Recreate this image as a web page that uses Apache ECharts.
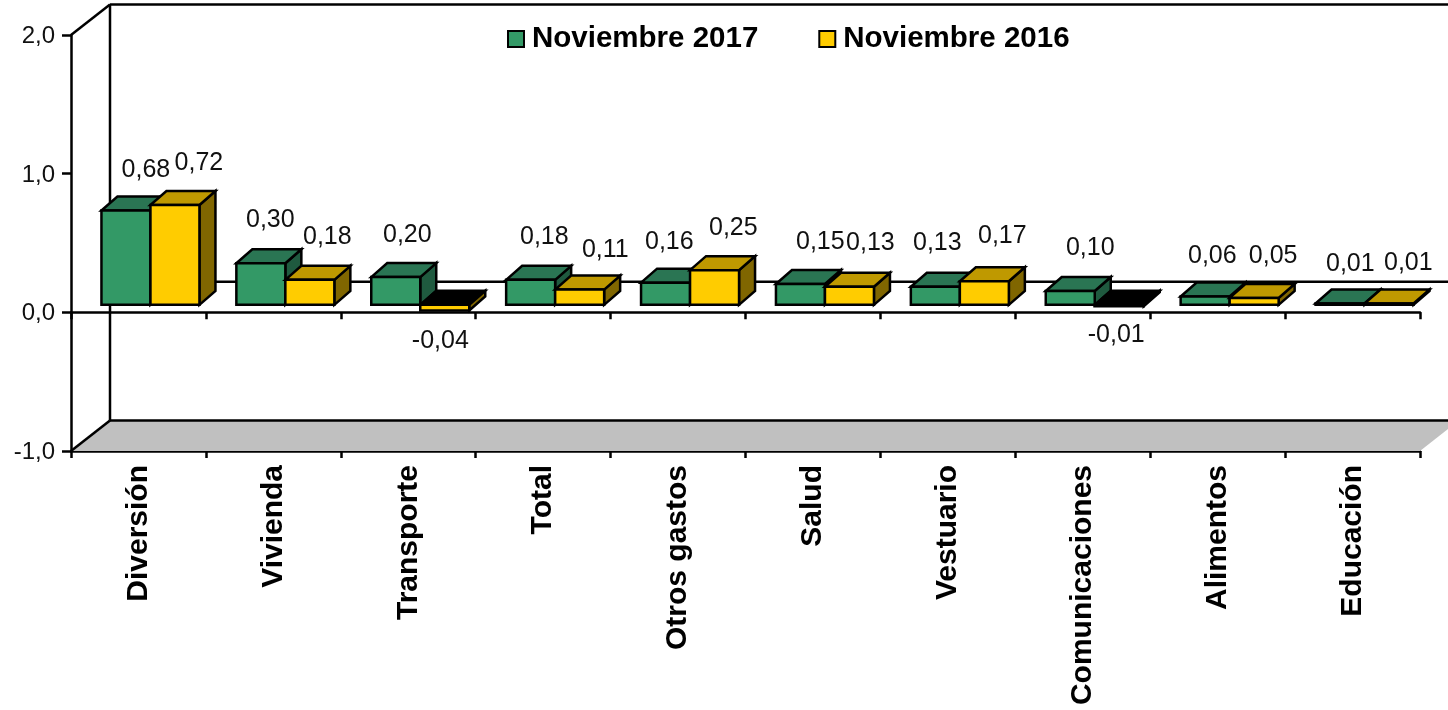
<!DOCTYPE html>
<html><head><meta charset="utf-8">
<style>html,body{margin:0;padding:0;background:#fff}#c{width:1448px;height:710px}</style>
<script src="https://cdn.jsdelivr.net/npm/echarts@6/dist/echarts.min.js"></script>
</head><body><div id="c"></div>
<script>
const categories = ['Diversión','Vivienda','Transporte','Total','Otros gastos','Salud','Vestuario','Comunicaciones','Alimentos','Educación'];
const nov2017 = [0.68,0.30,0.20,0.18,0.16,0.15,0.13,0.10,0.06,0.01];
const nov2016 = [0.72,0.18,-0.04,0.11,0.25,0.13,0.17,-0.01,0.05,0.01];
const yTicks = [-1,0,1,2];
// label nudges relative to each bar's centre / value position
const shift2017 = [[20,-48],[9.5,-51],[11.6,-49],[13.7,-50],[3.8,-48],[19.9,-49.5],[2,-51],[20,-50],[7.2,-48],[10.3,-47]];
const shift2016 = [[24,-49.5],[17.5,-50],[-4.4,23],[25.7,-47],[18.8,-49.6],[21,-51],[18,-52.7],[-3,21],[19,-49],[19.3,-48]];

const FONT = '"Liberation Sans", Arial, sans-serif';
const BLACK = '#000';
const GREEN = {front:'#339966', top:'#2A7553', side:'#1F5A3F'};
const YELLOW = {front:'#FFCC00', top:'#BF9900', side:'#806600'};
const WALL = [39,-30.5], BAR_OFF = [12,-7.5], DEPTH = [16,-14], BAR_W = 49, LW = 2.5;

function poly(points, fill){
  return {type:'polygon', shape:{points}, style:{fill, stroke:BLACK, lineWidth:LW, lineJoin:'miter'}};
}
function barRenderer(colors, side, shifts){
  return function(params, api){
    const i = api.value(0), v = api.value(1);
    const p0 = api.coord([i,0]), pv = api.coord([i,v]);
    const cx = p0[0] + BAR_OFF[0] + side*BAR_W/2;
    const x0 = cx - BAR_W/2, x1 = cx + BAR_W/2;
    const base = p0[1] + BAR_OFF[1];
    const end = pv[1] + BAR_OFF[1];
    const [dx,dy] = DEPTH;
    const ch = [];
    if (v >= 0) {
      ch.push(poly([[x1,end],[x1+dx,end+dy],[x1+dx,base+dy],[x1,base]], colors.side));
      ch.push(poly([[x0,end],[x0+dx,end+dy],[x1+dx,end+dy],[x1,end]], colors.top));
      ch.push(poly([[x0,end],[x1,end],[x1,base],[x0,base]], colors.front));
    } else {
      ch.push(poly([[x0,base],[x0+dx,base+dy],[x1+dx,base+dy],[x1,base]], BLACK));
      ch.push(poly([[x1,base],[x1+dx,base+dy],[x1+dx,end+dy],[x1,end]], colors.side));
      ch.push(poly([[x0,base],[x1,base],[x1,end],[x0,end]], colors.front));
    }
    const s = shifts[i];
    ch.push({type:'text', style:{
      text:v.toFixed(2).replace('.',','), x:cx+s[0], y:pv[1]+s[1],
      align:'center', verticalAlign:'middle', fill:'#111', font:'25px '+FONT}});
    return {type:'group', children:ch};
  };
}
function frameRenderer(params, api){
  const n = categories.length;
  const half = api.size([1,0])[0]/2;
  const left = api.coord([0,0])[0]-half, right = api.coord([n-1,0])[0]+half;
  const yb = api.coord([0,-1])[1], yt = api.coord([0,2])[1], yz = api.coord([0,0])[1];
  const [wx,wy] = WALL;
  const far = 2000;
  const ln = (x1,y1,x2,y2)=>({type:'line', shape:{x1,y1,x2,y2}, style:{stroke:BLACK, lineWidth:LW}});
  return {type:'group', children:[
    {type:'polygon', shape:{points:[[left,yb],[left+wx,yb+wy],[right+wx,yb+wy],[right,yb]]}, style:{fill:'#C0C0C0'}},
    ln(left+wx,yb+wy,far,yb+wy),
    ln(left+wx,yb+wy,left+wx,yt+wy),
    ln(left+wx,yt+wy,far,yt+wy),
    ln(left,yb,left+wx,yb+wy),
    ln(left,yt,left+wx,yt+wy),
    ln(left+wx,yz+wy,far,yz+wy)
  ]};
}
const chart = echarts.init(document.getElementById('c'), null, {renderer:'canvas'});
chart.setOption({
  animation:false,
  backgroundColor:'#fff',
  grid:{left:71, right:28, top:35, bottom:259, containLabel:false},
  legend:{
    left:502, top:19, itemWidth:16, itemHeight:16, itemGap:60, selectedMode:false,
    textStyle:{fontFamily:FONT, fontWeight:'bold', fontSize:29.5, color:'#000', padding:[0,0,0,3]},
    data:[
      {name:'Noviembre 2017', icon:'rect', itemStyle:{color:GREEN.front, borderColor:BLACK, borderWidth:2}},
      {name:'Noviembre 2016', icon:'rect', itemStyle:{color:YELLOW.front, borderColor:BLACK, borderWidth:2}}
    ]
  },
  xAxis:[
    {type:'category', data:categories, position:'bottom',
     axisLine:{show:true, onZero:false, lineStyle:{color:BLACK,width:LW}},
     axisTick:{show:true, length:7, lineStyle:{color:BLACK,width:LW}},
     axisLabel:{rotate:90, margin:14, interval:0, color:'#000', fontFamily:FONT, fontWeight:'bold', fontSize:30},
     splitLine:{show:false}},
    {type:'category', data:categories, position:'top',
     axisLine:{show:true, onZero:true, lineStyle:{color:BLACK,width:LW}},
     axisTick:{show:true, inside:true, length:7, lineStyle:{color:BLACK,width:LW}},
     axisLabel:{show:false}, splitLine:{show:false}}
  ],
  yAxis:{type:'value', min:yTicks[0], max:yTicks[yTicks.length-1], interval:1,
    axisLine:{show:true, onZero:false, lineStyle:{color:BLACK,width:LW}},
    axisTick:{show:true, length:9, lineStyle:{color:BLACK,width:LW}},
    axisLabel:{margin:16, color:'#111', fontFamily:FONT, fontSize:24,
      formatter:v=>'{t|'+v.toFixed(1).replace('.',',')+'}',
      rich:{t:{color:'#111', fontFamily:FONT, fontSize:24, padding:[3,0,0,0]}}},
    splitLine:{show:false}},
  series:[
    {name:'frame', type:'custom', z:1, silent:true, clip:false, renderItem:frameRenderer, data:[[0,0]], encode:{x:0,y:1}},
    {name:'Noviembre 2017', type:'custom', z:3, clip:false, renderItem:barRenderer(GREEN,-1,shift2017),
     itemStyle:{color:GREEN.front}, data:nov2017.map((v,i)=>[i,v]), encode:{x:0,y:1}},
    {name:'Noviembre 2016', type:'custom', z:4, clip:false, renderItem:barRenderer(YELLOW,1,shift2016),
     itemStyle:{color:YELLOW.front}, data:nov2016.map((v,i)=>[i,v]), encode:{x:0,y:1}}
  ]
});
</script></body></html>
